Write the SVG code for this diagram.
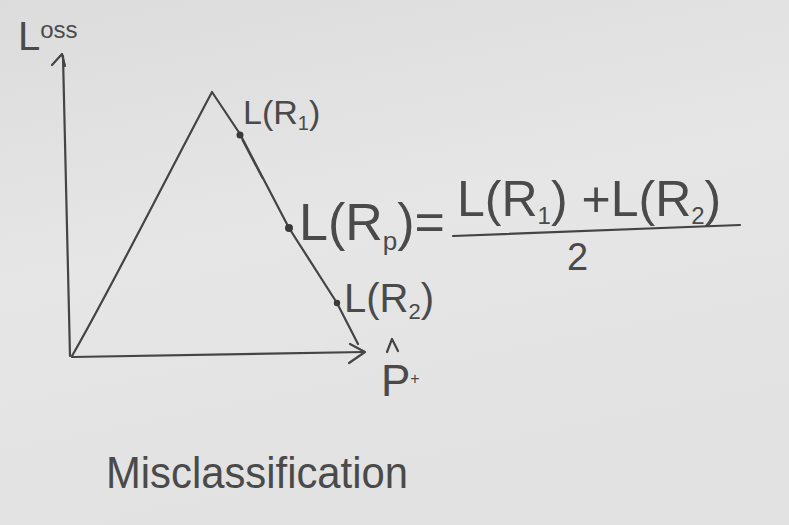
<svg xmlns="http://www.w3.org/2000/svg" width="789" height="525" viewBox="0 0 789 525">
  <defs>
    <linearGradient id="bg" x1="0" y1="0" x2="0.3" y2="1">
      <stop offset="0" stop-color="#dcdcdc"/>
      <stop offset="0.5" stop-color="#e6e6e6"/>
      <stop offset="1" stop-color="#e2e2e2"/>
    </linearGradient>
    <style>
      .ink { fill: none; stroke: #444; stroke-width: 2.2; stroke-linecap: round; stroke-linejoin: round; }
      .txt { font-family: "Liberation Sans", "DejaVu Sans", sans-serif; fill: #4a4a4a; }
      .dot { fill: #3a3a3a; }
    </style>
  </defs>
  <rect width="789" height="525" fill="url(#bg)"/>

  <!-- axes -->
  <g id="y-axis">
    <path class="ink" d="M63,56 L70,356"/>
    <path class="ink" d="M52,65 L62,54 L65,66"/>
  </g>
  <g id="x-axis">
    <path class="ink" d="M72,357 L364,352"/>
    <path class="ink" d="M350,344 L365,352 L349,363"/>
  </g>

  <!-- loss curve -->
  <g id="curve">
    <path class="ink" d="M72,356 C110,290 160,190 212,92 L240,134 L289,228 L337,303 L358,344"/>
    <path class="ink" style="stroke-width:1.2" d="M242,140 L262,178"/>
    <circle class="dot" cx="240" cy="135" r="3.5"/>
    <circle class="dot" cx="289" cy="228" r="4"/>
    <circle class="dot" cx="337" cy="303" r="3.2"/>
  </g>

  <!-- labels -->
  <text class="txt" x="18" y="50" font-size="40">L<tspan font-size="24" dy="-12">oss</tspan></text>

  <text class="txt" x="243" y="124" font-size="34">L(R<tspan font-size="20" dy="6">1</tspan><tspan dy="-6">)</tspan></text>

  <text class="txt" x="299" y="240" font-size="52">L(R<tspan font-size="26" dy="10">p</tspan><tspan dy="-10">)=</tspan></text>

  <text class="txt" x="457" y="216" font-size="50">L(R<tspan font-size="24" dy="8">1</tspan><tspan dy="-8">) +L(R</tspan><tspan font-size="24" dy="8">2</tspan><tspan dy="-8">)</tspan></text>
  <path class="ink" d="M453,236 L740,225"/>
  <text class="txt" x="567" y="270" font-size="38">2</text>

  <text class="txt" x="344" y="312" font-size="40">L(R<tspan font-size="22" dy="7">2</tspan><tspan dy="-7">)</tspan></text>

  <g id="p-hat">
    <path class="ink" d="M387,352 L392,339 L398,351"/>
    <text class="txt" x="381" y="396" font-size="44">P<tspan font-size="16" dy="-12">+</tspan></text>
  </g>

  <text class="txt" x="106" y="488" font-size="44" textLength="302" lengthAdjust="spacingAndGlyphs">Misclassification</text>
</svg>
